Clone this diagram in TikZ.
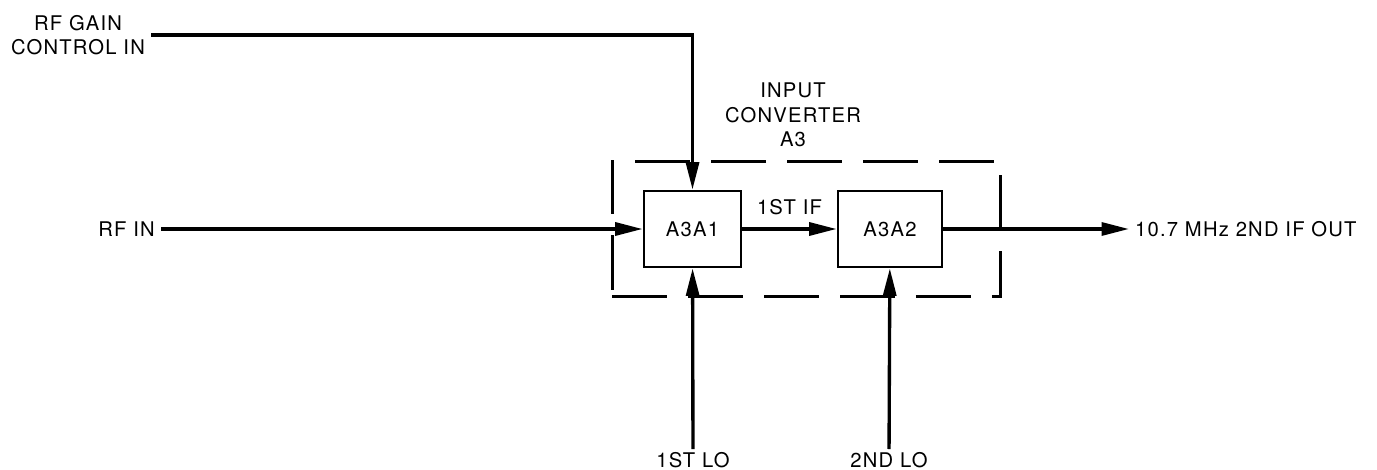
\documentclass[tikz,border=0pt]{standalone}
\usepackage{fontspec}
\setmainfont{TeX Gyre Heros}[LetterSpace=6]
\usetikzlibrary{arrows.meta}

\begin{document}
\begin{tikzpicture}[
    x=0.02cm, y=-0.02cm,
    every node/.style={font=\fontsize{11.5}{14}\selectfont},
    block/.style={rectangle, draw=black, line width=1.6pt, minimum width=1.98cm, minimum height=1.52cm, inner sep=0pt},
    group/.style={rectangle, draw=black, line width=1.7pt, dash pattern=on 1.1cm off 0.42cm, minimum width=7.78cm, minimum height=2.72cm, inner sep=0pt},
    label/.style={align=center},
    sig/.style={-{Triangle[length=0.55cm, width=0.26cm]}, line width=1.9pt},
    feed/.style={line width=1.9pt}
]
\useasboundingbox (0,0) rectangle (1377,470);

% Input converter A3
\node[group] (a3) at (806.5,229) {};
\node[label] (a3name) at (793,115) {INPUT\\CONVERTER\\A3};

% Blocks
\node[block, minimum width=1.94cm] (a3a1) at (692.5,229) {A3A1};
\node[block, minimum width=2.08cm] (a3a2) at (890,229) {A3A2};

% Inputs and outputs
\node[label] (gain) at (78,35) {RF GAIN\\CONTROL IN};
\node[anchor=east] (rfin) at (161,229) {RF IN};
\node[anchor=west] (ifout) at (1129,229) {10.7 MHz 2ND IF OUT};
\node[anchor=north, inner sep=2pt] (lo1) at (693,449) {1ST LO};
\node[anchor=north, inner sep=2pt] (lo2) at (889,449) {2ND LO};

% Arrows
\draw[sig] (gain.east) -| (a3a1.north);
\draw[sig] (rfin) -- (a3a1);
\draw[sig] (a3a1) -- node[above=4pt] (firstif) {1ST IF} (a3a2);
\draw[sig] (a3a2) -- (ifout);
\draw[sig] (lo1) -- (a3a1);
\draw[sig] (lo2) -- (a3a2);

\end{tikzpicture}
\end{document}
